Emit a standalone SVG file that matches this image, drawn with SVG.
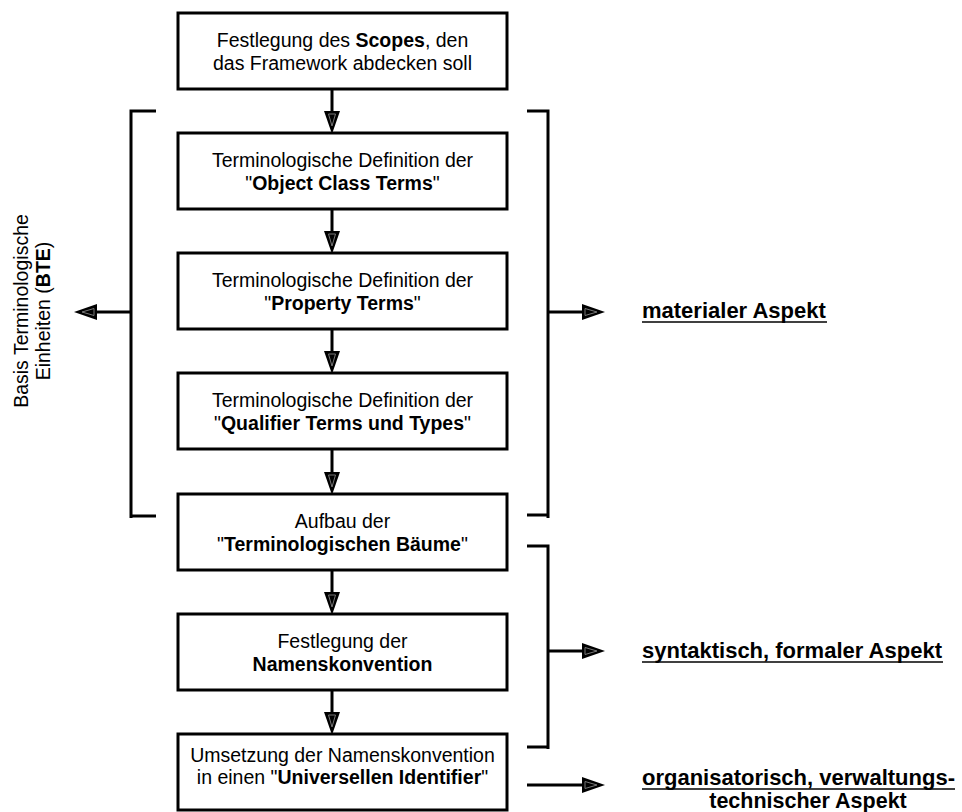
<svg xmlns="http://www.w3.org/2000/svg" width="962" height="812" viewBox="0 0 962 812">
<style>
.box{fill:#fff;stroke:#000;stroke-width:3}
.t{font-family:"Liberation Sans",Arial,sans-serif;font-size:19.5px;fill:#000;text-anchor:middle}
.b{font-weight:bold}
.lbl{font-family:"Liberation Sans",Arial,sans-serif;font-size:22px;font-weight:bold;fill:#000}
.ln{stroke:#000;stroke-width:3;fill:none}
.ul{stroke:#000;stroke-width:1.6}
</style>
<defs>
<marker id="ah" markerUnits="userSpaceOnUse" markerWidth="26" markerHeight="20" refX="0" refY="8" orient="auto" overflow="visible">
<path d="M0,0 L23,8 L0,16 Z" fill="#000"/>
<path d="M3,4.5 L15,8 L3,11.5 Z" fill="none" stroke="#777" stroke-width="1"/>
</marker>
</defs>
<rect width="962" height="812" fill="#fff"/>
<g id="connectors">
<line class="ln" x1="332" y1="89" x2="332" y2="111" marker-end="url(#ah)"/>
<line class="ln" x1="332" y1="209" x2="332" y2="231" marker-end="url(#ah)"/>
<line class="ln" x1="332" y1="329" x2="332" y2="351" marker-end="url(#ah)"/>
<line class="ln" x1="332" y1="449" x2="332" y2="472" marker-end="url(#ah)"/>
<line class="ln" x1="332" y1="570" x2="332" y2="592" marker-end="url(#ah)"/>
<line class="ln" x1="332" y1="690" x2="332" y2="712" marker-end="url(#ah)"/>
<path class="ln" d="M156,111 H131 V518 M131,516 H156"/>
<line class="ln" x1="131" y1="312" x2="97" y2="312" marker-end="url(#ah)"/>
<path class="ln" d="M527,111 H548 V518 M527,515 H548"/>
<line class="ln" x1="548" y1="312" x2="582" y2="312" marker-end="url(#ah)"/>
<path class="ln" d="M527,546 H548 V749 M527,747 H548"/>
<line class="ln" x1="548" y1="651" x2="582" y2="651" marker-end="url(#ah)"/>
<line class="ln" x1="527" y1="785" x2="582" y2="785" marker-end="url(#ah)"/>
</g>
<g id="n1">
<rect class="box" x="178" y="13" width="329" height="76"/>
<text class="t" x="342.5" y="47">Festlegung des <tspan class="b">Scopes</tspan>, den</text>
<text class="t" x="342.5" y="70">das Framework abdecken soll</text>
</g>
<g id="n2">
<rect class="box" x="178" y="133" width="329" height="76"/>
<text class="t" x="342.5" y="167">Terminologische Definition der</text>
<text class="t" x="342.5" y="190">"<tspan class="b">Object Class Terms</tspan>"</text>
</g>
<g id="n3">
<rect class="box" x="178" y="253" width="329" height="76"/>
<text class="t" x="342.5" y="287">Terminologische Definition der</text>
<text class="t" x="342.5" y="310">"<tspan class="b">Property Terms</tspan>"</text>
</g>
<g id="n4">
<rect class="box" x="178" y="373" width="329" height="76"/>
<text class="t" x="342.5" y="407">Terminologische Definition der</text>
<text class="t" x="342.5" y="430">"<tspan class="b">Qualifier Terms und Types</tspan>"</text>
</g>
<g id="n5">
<rect class="box" x="178" y="494" width="329" height="76"/>
<text class="t" x="342.5" y="528">Aufbau der</text>
<text class="t" x="342.5" y="551">"<tspan class="b">Terminologischen Bäume</tspan>"</text>
</g>
<g id="n6">
<rect class="box" x="178" y="614" width="329" height="76"/>
<text class="t" x="342.5" y="648">Festlegung der</text>
<text class="t" x="342.5" y="671"><tspan class="b">Namenskonvention</tspan></text>
</g>
<g id="n7">
<rect class="box" x="178" y="734" width="329" height="76"/>
<text class="t" x="342.5" y="762">Umsetzung der Namenskonvention</text>
<text class="t" x="342.5" y="784">in einen "<tspan class="b">Universellen Identifier</tspan>"</text>
</g>
<g id="bte">
<text class="t" transform="translate(28,311) rotate(-90)">Basis Terminologische</text>
<text class="t" transform="translate(50,311) rotate(-90)">Einheiten (<tspan class="b">BTE</tspan>)</text>
</g>
<g id="material">
<text class="lbl" x="642" y="318">materialer Aspekt</text>
<line class="ul" x1="642" y1="322" x2="827" y2="322"/>
</g>
<g id="syntaktisch">
<text class="lbl" x="642" y="658">syntaktisch, formaler Aspekt</text>
<line class="ul" x1="642" y1="662" x2="943" y2="662"/>
</g>
<g id="organisatorisch">
<text class="lbl" x="642" y="785">organisatorisch, verwaltungs-</text>
<line class="ul" x1="642" y1="789" x2="955" y2="789"/>
<text class="lbl" x="808" y="808" text-anchor="middle" style="font-size:21.5px">technischer Aspekt</text>
</g>
</svg>
